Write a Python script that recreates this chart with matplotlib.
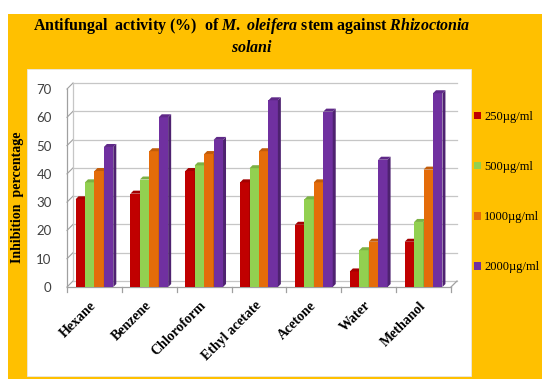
import matplotlib
matplotlib.use("Agg")
import matplotlib.pyplot as plt
from matplotlib.patches import Rectangle, Polygon
from matplotlib.colors import to_rgb
import numpy as np

# ---- data -------------------------------------------------------------
solvents = ["Hexane", "Benzene", "Chloroform", "Ethyl acetate",
            "Acetone", "Water", "Methanol"]
conc_labels = ["250\u00b5g/ml", "500\u00b5g/ml", "1000\u00b5g/ml", "2000\u00b5g/ml"]
inh_250 = [31, 33, 41, 37, 22, 5.5, 16]
inh_500 = [37, 38, 43, 42, 31, 13, 23]
inh_1000 = [41, 48, 47, 48, 37, 16, 41.5]
inh_2000 = [49.5, 60, 52, 66, 62, 45, 68.5]
y_ticks = [0, 10, 20, 30, 40, 50, 60, 70]

series = [inh_250, inh_500, inh_1000, inh_2000]
colors = ["#C00000", "#92D050", "#E46C0A", "#7030A0"]

# ---- fonts ------------------------------------------------------------
plt.rcParams.update({
    "mathtext.fontset": "custom",
    "mathtext.rm": "Liberation Serif:bold",
    "mathtext.bf": "Liberation Serif:bold",
    "mathtext.it": "Liberation Serif:italic:bold",
})
SERIF = "Liberation Serif"

W, H = 542, 379
fig = plt.figure(figsize=(W / 100, H / 100), dpi=100)
fig.patch.set_facecolor("white")


def fx(px):
    return px / W


def fy(py):
    return 1 - py / H


# orange frame and white plotting panel (behind the axes)
fig.patches.append(Rectangle((fx(8), 0), 1 - fx(8), fy(14), transform=fig.transFigure,
                             facecolor="#FFC000", edgecolor="none", zorder=-20))
fig.patches.append(Rectangle((fx(27), fy(376)), fx(471) - fx(27), fy(69) - fy(376),
                             transform=fig.transFigure, facecolor="white",
                             edgecolor="#e8e8e8", lw=0.6, zorder=-19))

# ---- axes -------------------------------------------------------------
left, right, top, bottom = 67, 451, 89, 287
ax = fig.add_axes([fx(left), fy(bottom), (right - left) / W, (bottom - top) / H])
ax.set_zorder(1)
ax.set_xlim(-0.5, len(solvents) - 0.5)
ax.set_ylim(0, 70)
ax.patch.set_visible(False)
for s in ax.spines.values():
    s.set_visible(False)


def px2data(dx, dy):
    inv = ax.transData.inverted()
    p0 = inv.transform((0, 0))
    p1 = inv.transform((dx, dy))
    return p1[0] - p0[0], p1[1] - p0[1]


# depth of the back wall and of each bar, in pixels
wdx, wdy = px2data(6, 6)
bdx, bdy = px2data(3, 3)
x0, x1 = -0.5, len(solvents) - 0.5
grid_c = "#c6c6c6"
axis_c = "#a0a0a0"

# back wall gridlines and connectors to the front axis
for t in y_ticks:
    ax.plot([x0 + wdx, x1 + wdx], [t + wdy, t + wdy], color=grid_c, lw=0.9,
            clip_on=False, zorder=1)
    ax.plot([x0, x0 + wdx], [t, t + wdy], color=axis_c, lw=0.8, clip_on=False, zorder=1)
ax.plot([x0 + wdx, x0 + wdx], [wdy, 70 + wdy], color=grid_c, lw=0.9, clip_on=False, zorder=1)
ax.plot([x0, x0], [0, 70], color=axis_c, lw=0.9, clip_on=False, zorder=1)

# floor
ax.plot([x0, x1], [0, 0], color=axis_c, lw=0.9, clip_on=False, zorder=1)
ax.plot([x1, x1 + wdx], [0, wdy], color=axis_c, lw=0.9, clip_on=False, zorder=1)
tick_len = px2data(0, 5)[1]
for k in range(len(solvents) + 1):
    ax.plot([x0 + k, x0 + k], [0, -tick_len], color=axis_c, lw=0.9,
            clip_on=False, zorder=1)


def shade(c, f):
    r, g, b = to_rgb(c)
    return (r * f, g * f, b * f)


# ---- bars with a shallow 3-D look ------------------------------------
bar_w = 0.172
x = np.arange(len(solvents))
handles = []
z = 3
for i in range(len(solvents)):
    for j, (vals, col) in enumerate(zip(series, colors)):
        xc = x[i] + (j - 1.5) * bar_w
        h = vals[i]
        b = ax.bar(xc, h, bar_w, color=col, edgecolor="none", clip_on=False,
                   zorder=z, label=conc_labels[j] if i == 0 else None)
        if i == 0:
            handles.append(b)
        xr = xc + bar_w / 2
        xl = xc - bar_w / 2
        side = Polygon([(xr, 0), (xr, h), (xr + bdx, h + bdy), (xr + bdx, bdy)],
                       closed=True, facecolor=shade(col, 0.7), edgecolor="none",
                       clip_on=False, zorder=z)
        cap = Polygon([(xl, h), (xr, h), (xr + bdx, h + bdy), (xl + bdx, h + bdy)],
                      closed=True, facecolor=shade(col, 0.85), edgecolor="none",
                      clip_on=False, zorder=z)
        ax.add_patch(side)
        ax.add_patch(cap)
        z += 1

# ---- ticks and labels -------------------------------------------------
ax.set_yticks(y_ticks)
ax.set_yticklabels([str(t) for t in y_ticks])
ax.tick_params(axis="y", length=0, pad=11, labelsize=9.5, labelcolor="#404040")
for lab in ax.get_yticklabels():
    lab.set_fontfamily("Lato")

ax.set_xticks(x)
ax.set_xticklabels(solvents, rotation=45, ha="right", va="center",
                   rotation_mode="anchor", fontfamily=SERIF, fontweight="bold",
                   fontsize=10)
ax.tick_params(axis="x", length=0, pad=12)

fig.text(fx(18), fy(197), "Inhibition  percentage", rotation=90, ha="center",
         va="center", fontfamily=SERIF, fontweight="bold", fontsize=10)

# title with italic species names
fig.text(fx(252), fy(26),
         r"Antifungal  activity (%)  of $\mathit{M.\ oleifera}$ stem against $\mathit{Rhizoctonia}$",
         ha="center", va="center", fontfamily=SERIF, fontweight="bold", fontsize=11.5)
fig.text(fx(252), fy(48), r"$\mathit{solani}$", ha="center", va="center",
         fontfamily=SERIF, fontweight="bold", fontsize=11.5)

# legend on the orange margin
leg = fig.legend(handles=handles, labels=conc_labels, loc="upper left",
                 bbox_to_anchor=(fx(474), fy(111)), frameon=False, borderpad=0,
                 borderaxespad=0, handlelength=0.55, handleheight=0.55,
                 handletextpad=0.25, labelspacing=3.05,
                 prop={"family": SERIF, "size": 9})

fig.savefig("out.png", dpi=100, facecolor=fig.get_facecolor())
